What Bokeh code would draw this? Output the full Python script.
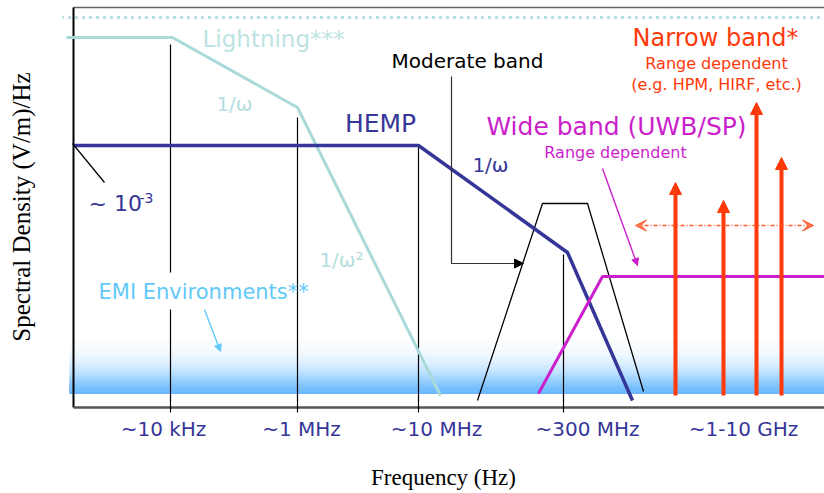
import numpy as np
from bokeh.plotting import figure
from bokeh.models import (ColumnDataSource, Arrow, NormalHead, VeeHead,
                          FixedTicker, Range1d)
from bokeh.core.properties import value
from bokeh.embed import file_html
from bokeh.resources import INLINE

# ---- schematic data (x: position along frequency axis, y: relative spectral density) ----
tick_x = [90, 228, 363, 514, 670]
tick_labels = ["~10 kHz", "~1 MHz", "~10 MHz", "~300 MHz", "~1-10 GHz"]

marker_x = [97, 224, 345, 490]
marker_top = [363, 290, 262, 153]
marker_bottom = -5
emi_label_gap = (98, 135)

lightning_x = [-7, 99, 224, 367]
lightning_y = [370, 370, 300, 12]
lightning_ceiling = 390

hemp_x = [0, 345, 494, 559]
hemp_y = [262, 262, 155, 7]

moderate_x = [404, 469, 514, 570]
moderate_y = [7, 204, 204, 16]

wide_x = [465, 529, 751]
wide_y = [14, 131, 131]

narrow_x = [602, 650, 683, 708]
narrow_top = [225, 207, 305, 250]
narrow_base = 12
narrow_range_x = [562, 740]
narrow_range_y = 182

emi_band_bottom, emi_band_top = 14, 72

X0, X1 = -11, 751
Y0, Y1 = -6, 407
TOP = 400

SANS = value("DejaVu Sans")
LIGHT = "#a9d9d9"
NAVY = "#363698"
MAGENTA = "#cc1fcc"
ORANGE = "#ff3a0a"
EMI = "#62c8f8"

p = figure(width=824, height=493, x_range=Range1d(X0, X1), y_range=Range1d(Y0, Y1),
           output_backend="svg", toolbar_location=None,
           min_border_left=62, min_border_right=0, min_border_top=0, min_border_bottom=80)
p.grid.visible = False
p.outline_line_color = None

# axes
p.xaxis.ticker = FixedTicker(ticks=tick_x)
p.xaxis.major_label_overrides = {t: l for t, l in zip(tick_x, tick_labels)}
p.xaxis.axis_line_color = None
p.xaxis.major_tick_line_color = None
p.xaxis.minor_tick_line_color = None
p.xaxis.major_tick_out = 0
p.xaxis.major_tick_in = 0
p.xaxis.minor_tick_out = 0
p.xaxis.major_label_standoff = 3
p.xaxis.major_label_text_font = "DejaVu Sans"
p.xaxis.major_label_text_font_size = "20px"
p.xaxis.major_label_text_color = NAVY
p.xaxis.axis_label = "Frequency (Hz)"
p.xaxis.axis_label_text_font = "Liberation Serif"
p.xaxis.axis_label_text_font_style = "normal"
p.xaxis.axis_label_text_font_size = "23px"
p.xaxis.axis_label_text_color = "black"
p.xaxis.axis_label_standoff = 21

p.yaxis.ticker = FixedTicker(ticks=[])
p.yaxis.axis_line_color = None
p.yaxis.major_tick_line_color = None
p.yaxis.minor_tick_line_color = None
p.yaxis.axis_label = "Spectral Density (V/m)/Hz"
p.yaxis.axis_label_text_font = "Liberation Serif"
p.yaxis.axis_label_text_font_style = "normal"
p.yaxis.axis_label_text_font_size = "25px"
p.yaxis.axis_label_text_color = "black"
p.yaxis.axis_label_standoff = 28

# EMI environments band: vertical gradient from stacked translucent strips
n = 60
k = np.arange(1, n + 1)
frac = np.clip(-np.log(k / n) / 4.5, 0, 1)
tops = emi_band_bottom + frac * (emi_band_top - emi_band_bottom)
p.quad(left=-4, right=X1, bottom=emi_band_bottom, top=tops,
       fill_color=EMI, fill_alpha=0.049, line_color=None)

# dotted ceiling line (row of dots) and frame lines
dot_x = np.arange(X0, X1 + 1, 7)
p.scatter(dot_x, np.full(len(dot_x), lightning_ceiling), size=3.6,
          fill_color="#b3dfe0", line_color=None)
p.line([0, X1], [TOP, TOP], line_color="#666666", line_width=1.5)
p.line([0, 0], [0, TOP], line_color="black", line_width=2)
p.line([0, X1], [0, 0], line_color="#555555", line_width=2.5)

# frequency marker lines
mx, my = [], []
for x, t in zip(marker_x, marker_top):
    if t > emi_label_gap[1] and x < 150:
        mx += [[x, x], [x, x]]
        my += [[t, emi_label_gap[1]], [emi_label_gap[0], marker_bottom]]
    else:
        mx.append([x, x])
        my.append([t, marker_bottom])
p.multi_line(mx, my, line_color="black", line_width=1.2)

# curves
p.line(lightning_x, lightning_y, line_color=LIGHT, line_width=3)
p.line(moderate_x, moderate_y, line_color="black", line_width=1.3)
p.line(hemp_x, hemp_y, line_color=NAVY, line_width=3.5)
p.line(wide_x, wide_y, line_color=MAGENTA, line_width=3)

# narrow band arrows
nsrc = ColumnDataSource(dict(x0=narrow_x, y0=[narrow_base] * len(narrow_x),
                             x1=narrow_x, y1=narrow_top))
p.add_layout(Arrow(x_start="x0", y_start="y0", x_end="x1", y_end="y1", source=nsrc,
                   line_color=ORANGE, line_width=4,
                   end=NormalHead(size=12, fill_color=ORANGE, line_color=ORANGE, line_width=1)))
p.add_layout(Arrow(x_start=narrow_range_x[0], y_start=narrow_range_y,
                   x_end=narrow_range_x[1], y_end=narrow_range_y,
                   line_color="#ff5a2a", line_width=1.5, line_dash="4 2 1 2",
                   start=VeeHead(size=11, fill_color="#ff7a50", line_color="#ff5a2a", line_width=1),
                   end=VeeHead(size=11, fill_color="#ff7a50", line_color="#ff5a2a", line_width=1)))

# leaders
p.line([-1, 31], [264, 225], line_color="black", line_width=1.2)
p.line([378, 378, 446], [331, 144, 144], line_color="#333333", line_width=1.2)
p.add_layout(Arrow(x_start=440, y_start=144, x_end=450, y_end=144, line_color="black",
                   line_width=1.2, end=NormalHead(size=9, fill_color="black", line_color="black")))
p.add_layout(Arrow(x_start=529, y_start=239, x_end=564, y_end=142, line_color=MAGENTA,
                   line_width=1.4, end=NormalHead(size=7, fill_color=MAGENTA, line_color=MAGENTA)))
p.add_layout(Arrow(x_start=131, y_start=98, x_end=147, y_end=56, line_color=EMI,
                   line_width=1.4, end=NormalHead(size=7, fill_color=EMI, line_color=EMI)))

# texts
def txt(x, y, s, color, size, align="center", baseline="middle"):
    p.text(x=[x], y=[y], text=[s], text_color=color, text_font=SANS,
           text_font_size=size, text_align=align, text_baseline=baseline)

txt(129, 369, "Lightning***", "#bde3e3", "23px", align="left")
txt(161, 304, "1/ω", "#b5dede", "20px")
txt(268, 148, "1/ω²", "#b5dede", "20px")
txt(307, 284, "HEMP", NAVY, "25px")
txt(417, 243, "1/ω", NAVY, "20px")
txt(15, 204, "~ 10", NAVY, "22px", align="left", baseline="alphabetic")
txt(66, 210, "-3", NAVY, "14px", align="left", baseline="alphabetic")
txt(394, 347, "Moderate band", "black", "20px")
txt(543, 281, "Wide band (UWB/SP)", MAGENTA, "25px")
txt(542, 255, "Range dependent", MAGENTA, "16px")
txt(642, 370, "Narrow band*", ORANGE, "24px")
txt(643, 344, "Range dependent", ORANGE, "16px")
txt(643, 323, "(e.g. HPM, HIRF, etc.)", ORANGE, "16px")
txt(25, 116, "EMI Environments**", EMI, "21px", align="left")

open("out.html", "w").write(file_html(p, INLINE))
